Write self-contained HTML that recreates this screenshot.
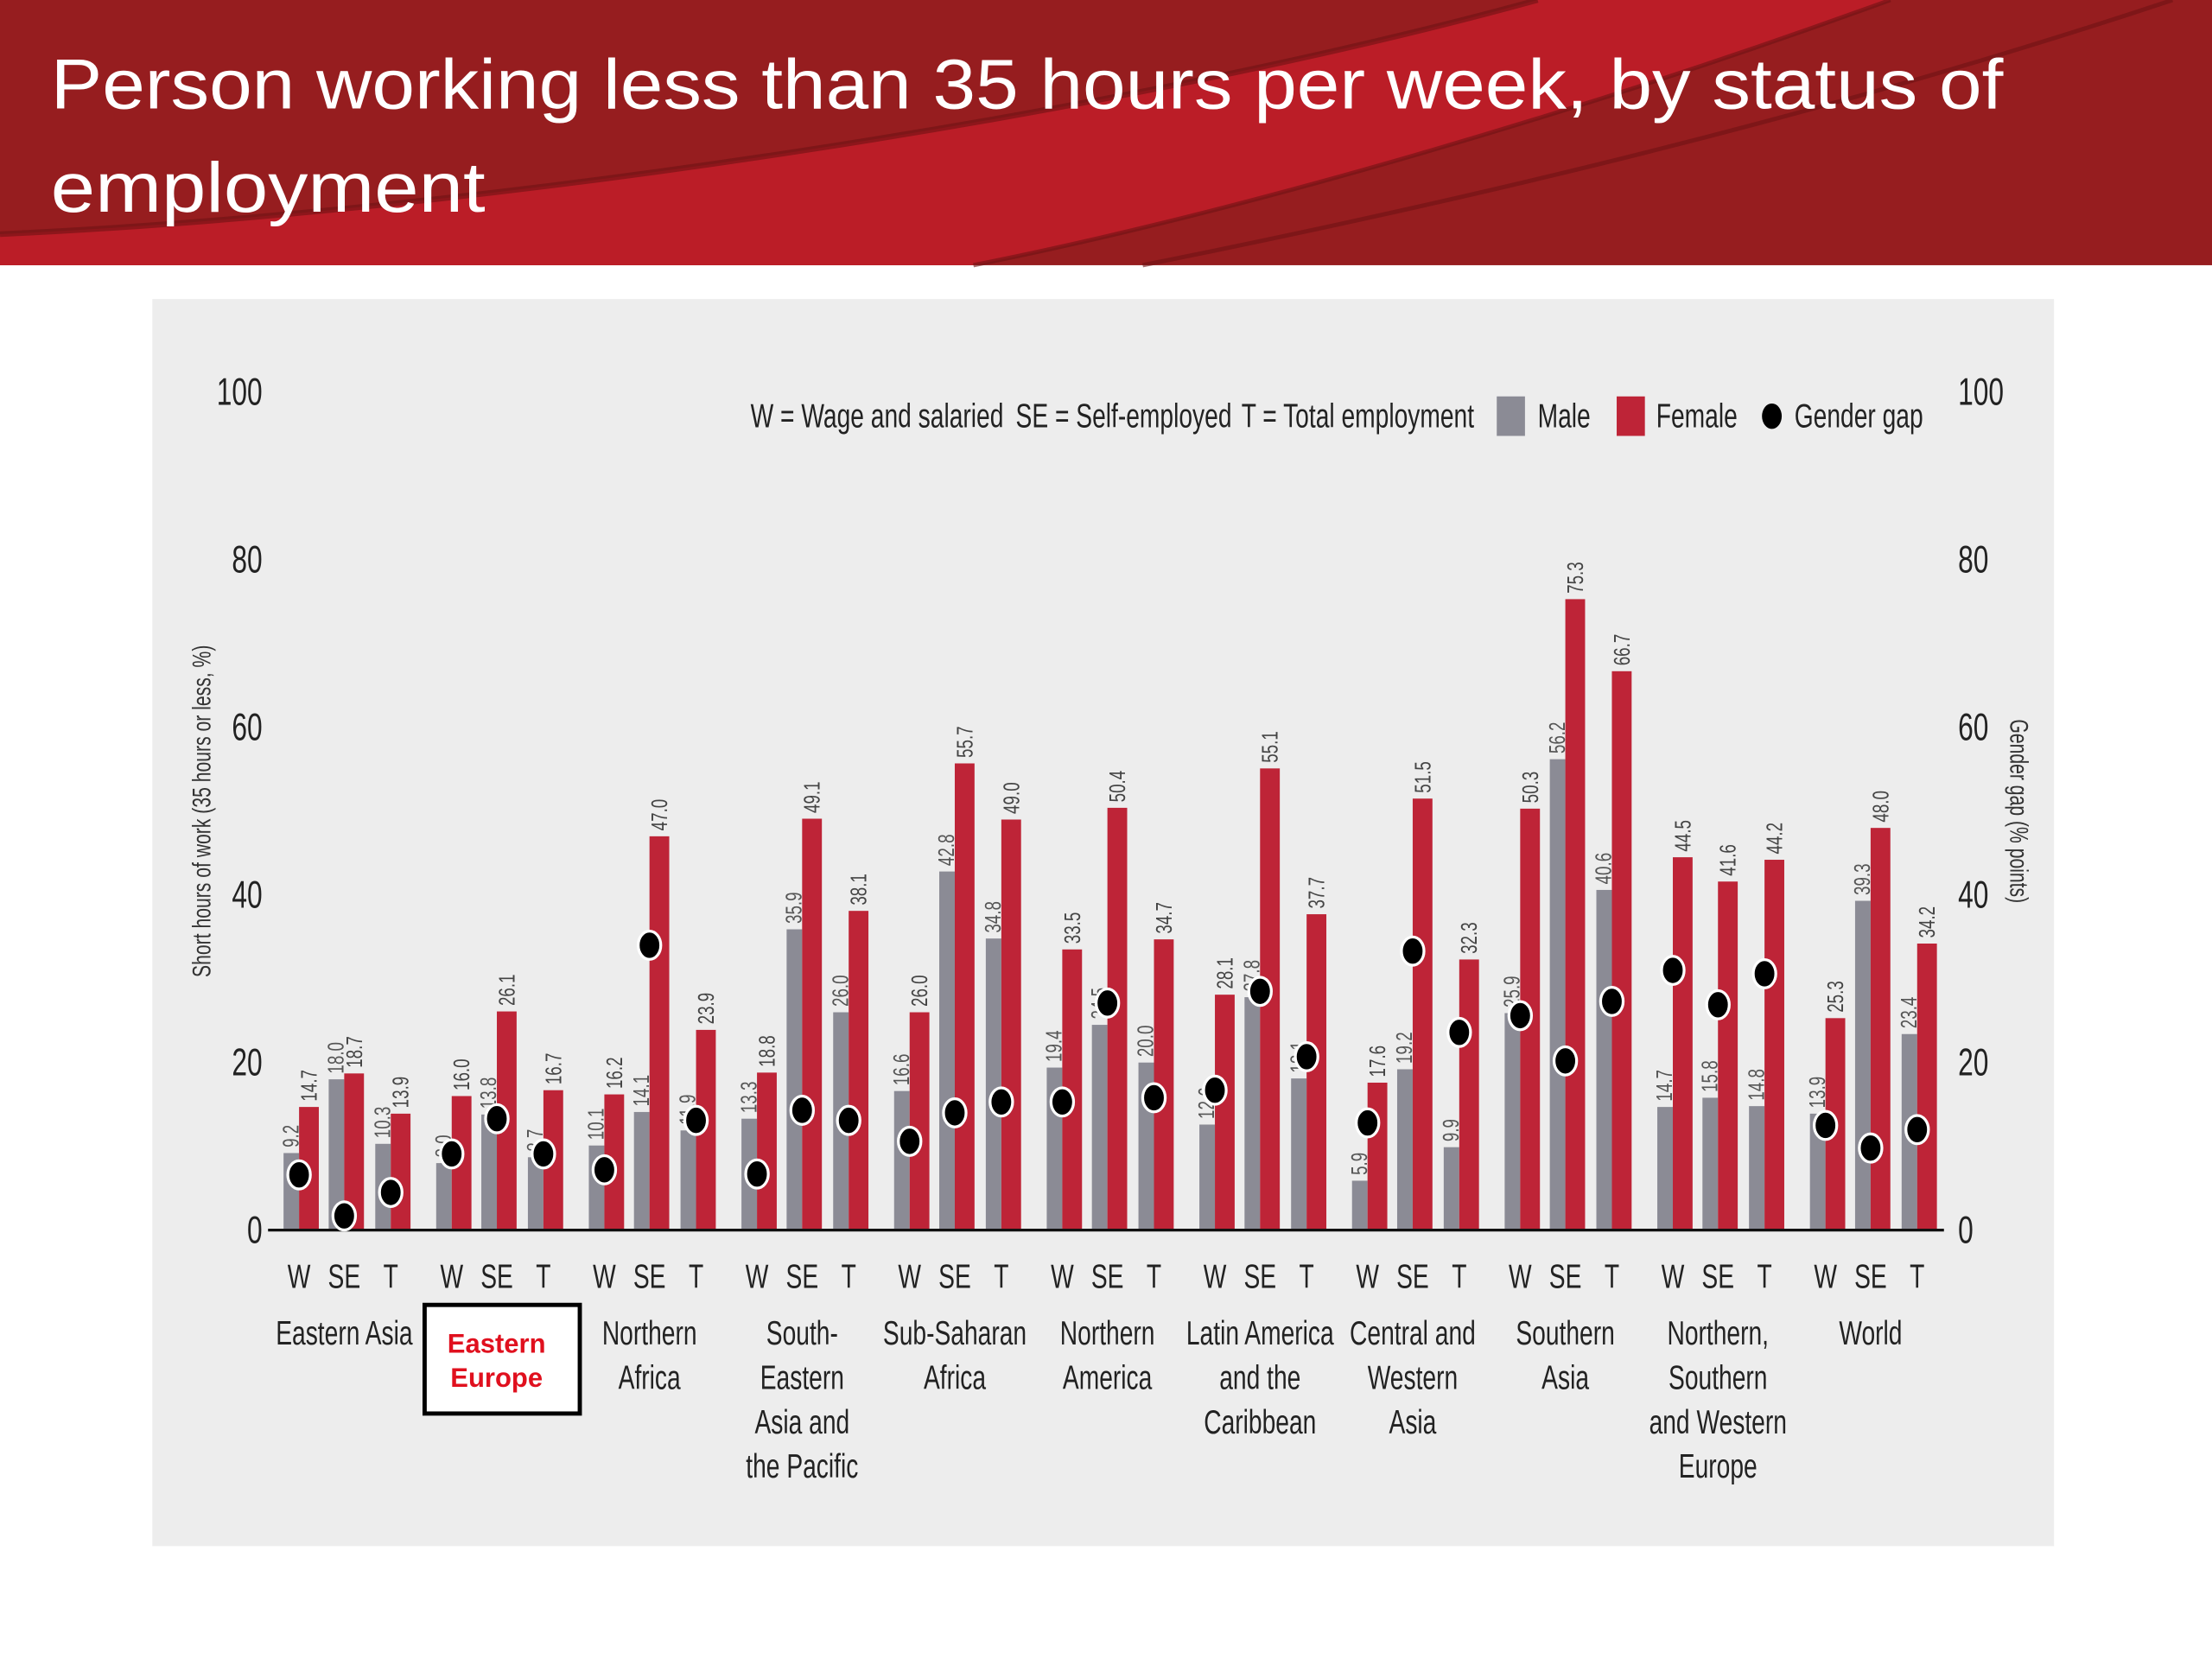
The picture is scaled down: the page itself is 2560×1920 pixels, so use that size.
<!DOCTYPE html>
<html><head><meta charset="utf-8"><style>
html,body{margin:0;padding:0;background:#fff;}
svg{display:block;}
text{font-family:"Liberation Sans",sans-serif;}
</style></head><body>
<svg id="chart" width="2560" height="1920" viewBox="0 0 1568 1176" xmlns="http://www.w3.org/2000/svg">
<g>
<rect x="0" y="0" width="1568" height="188" fill="#961d1f"/>
<path d="M0,166 C350,150 800,80 1090,0 L1340,0 C1120,80 880,150 690,188 L0,188 Z" fill="#bb1d27"/>
<path d="M0,166 C350,150 800,80 1090,0" fill="none" stroke="#6e1214" stroke-width="4" opacity="0.6"/>
<path d="M690,188 C880,150 1120,80 1340,0" fill="none" stroke="#6e1214" stroke-width="3" opacity="0.6"/>
<path d="M810,188 C1050,140 1300,80 1540,0" fill="none" stroke="#6e1214" stroke-width="3" opacity="0.6"/>
<text x="36" y="77" fill="#fff" font-size="50" textLength="1384" lengthAdjust="spacingAndGlyphs">Person working less than 35 hours per week, by status of</text>
<text x="36" y="150" fill="#fff" font-size="50" textLength="308" lengthAdjust="spacingAndGlyphs">employment</text>
</g>
<rect x="108" y="212" width="1348" height="884" fill="#ededed"/>
<g id="plot"></g>
</svg>
<script>
const groups = ["Eastern Asia","Eastern Europe","Northern Africa","South-Eastern Asia and the Pacific","Sub-Saharan Africa","Northern America","Latin America and the Caribbean","Central and Western Asia","Southern Asia","Northern, Southern and Western Europe","World"];
const groupLines = [["Eastern Asia"],["Eastern","Europe"],["Northern","Africa"],["South-","Eastern","Asia and","the Pacific"],["Sub-Saharan","Africa"],["Northern","America"],["Latin America","and the","Caribbean"],["Central and","Western","Asia"],["Southern","Asia"],["Northern,","Southern","and Western","Europe"],["World"]];
const statuses = ["W","SE","T"];
const maleValues = [9.2,18.0,10.3, 8.0,13.8,8.7, 10.1,14.1,11.9, 13.3,35.9,26.0, 16.6,42.8,34.8, 19.4,24.5,20.0, 12.6,27.8,18.1, 5.9,19.2,9.9, 25.9,56.2,40.6, 14.7,15.8,14.8, 13.9,39.3,23.4];
const femaleValues = [14.7,18.7,13.9, 16.0,26.1,16.7, 16.2,47.0,23.9, 18.8,49.1,38.1, 26.0,55.7,49.0, 33.5,50.4,34.7, 28.1,55.1,37.7, 17.6,51.5,32.3, 50.3,75.3,66.7, 44.5,41.6,44.2, 25.3,48.0,34.2];
const gapValues = [6.6,1.7,4.5, 9.1,13.3,9.1, 7.2,34.0,13.1, 6.7,14.3,13.1, 10.6,14.0,15.3, 15.3,27.1,15.8, 16.7,28.5,20.7, 12.8,33.3,23.6, 25.6,20.2,27.3, 31.0,26.9,30.6, 12.5,9.8,12.0];
const yTicks = [0,20,40,60,80,100];

const NS="http://www.w3.org/2000/svg";
const plot=document.getElementById('plot');
const y0=872, yTop=278;
const SX=0.72;
function yScale(v){return y0-(y0-yTop)*v/100;}
function xGroup(g){return 244+g*108.2;}
function xPair(g,s){return xGroup(g)+[-32,0,33][s];}
function mk(tag,attrs,parent){const e=document.createElementNS(NS,tag);for(const k in attrs)e.setAttribute(k,attrs[k]);(parent||plot).appendChild(e);return e;}
// condensed text at (x,y) with optional rotation
function ctext(x,y,txt,size,fill,anchor,rot){
  const t=mk('text',{x:0,y:0,transform:`translate(${x},${y})`+(rot?` rotate(${rot})`:'')+` scale(${SX},1)`,'font-size':size,fill:fill,'text-anchor':anchor||'start'});
  t.textContent=txt;return t;
}

yTicks.forEach(t=>{
  const l=ctext(186,yScale(t)+9,String(t),27,'#222','end');
  
  
  const r=ctext(1388,yScale(t)+9,String(t),27,'#222','start');
  
  
});
const lt=ctext(149,575,'Short hours of work (35 hours or less, %)',18,'#333','middle',-90);


const rt=ctext(1425,575,'Gender gap (% points)',18,'#333','middle',90);



groups.forEach((g,gi)=>{
  statuses.forEach((s,si)=>{
    const i=gi*3+si, c=xPair(gi,si);
    const m=maleValues[i], f=femaleValues[i];
    const mb=mk('rect',{x:c-11,y:yScale(m),width:11,height:y0-yScale(m),fill:'#8b8b95'});
    
    
    const fb=mk('rect',{x:c,y:yScale(f),width:14,height:y0-yScale(f),fill:'#be2437'});
    
    
    const ml=ctext(c-0.5,yScale(m)-4,m.toFixed(1),16,'#555','start',-90);
    
    
    const fl=ctext(c+12.5,yScale(f)-4,f.toFixed(1),16,'#444','start',-90);
    
    
    const st=ctext(c,913,s,24,'#222','middle');
    
    
  });
});
const bl=mk('line',{x1:190,y1:y0,x2:1378,y2:y0,stroke:'#111','stroke-width':2});


groups.forEach((g,gi)=>{statuses.forEach((s,si)=>{
  const i=gi*3+si;
  const d=mk('ellipse',{cx:xPair(gi,si),cy:yScale(gapValues[i]),rx:8,ry:10,fill:'#000',stroke:'#fff','stroke-width':2});
  
  
});});
groups.forEach((g,gi)=>{
  const cx=xGroup(gi);
  if(gi===1){
    const bx=mk('rect',{x:301,y:925,width:110,height:77,fill:'#fff',stroke:'#000','stroke-width':3});
    
    
    groupLines[gi].forEach((ln,li)=>{
      const t=mk('text',{x:352,y:959+li*24,'text-anchor':'middle','font-size':19,'font-weight':'bold',fill:'#e0101e'});
      t.textContent=ln;
      
      
    });
    return;
  }
  groupLines[gi].forEach((ln,li)=>{
    const t=ctext(cx,953+li*31.5,ln,24,'#222','middle');
    
    
  });
});
function lt2(x,txt,name){const t=ctext(x,303,txt,24,'#222','start');return t;}
lt2(532,'W = Wage and salaried','legend-w');
lt2(720,'SE = Self-employed','legend-se');
lt2(880,'T = Total employment','legend-t');
const sq1=mk('rect',{x:1061,y:281,width:20,height:28,fill:'#8b8b95'});


lt2(1090,'Male','legend-male');
const sq2=mk('rect',{x:1146,y:281,width:20,height:28,fill:'#be2437'});


lt2(1174,'Female','legend-female');
const ld=mk('ellipse',{cx:1256,cy:295,rx:7,ry:9,fill:'#000'});


lt2(1272,'Gender gap','legend-gap');
</script>
</body></html>
